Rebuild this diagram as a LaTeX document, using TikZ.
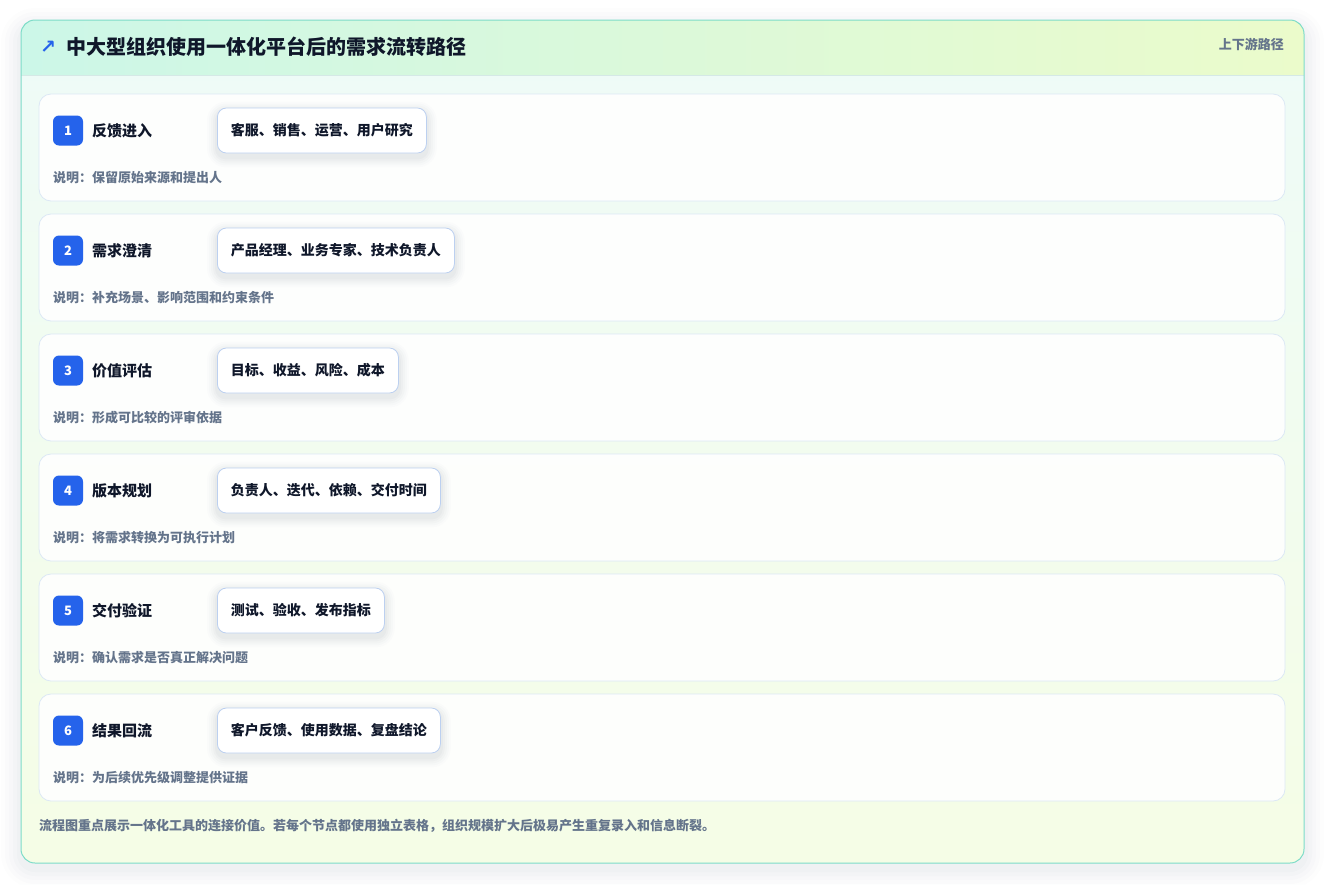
\documentclass[tikz,border=0pt]{standalone}
\usepackage{fontspec}
\setmainfont{Noto Sans CJK SC}
\newfontfamily\symfont{DejaVu Sans}
\usetikzlibrary{positioning}
\definecolor{cardborder}{HTML}{7DDCC8}
\definecolor{headL}{HTML}{CCF7E8}
\definecolor{headR}{HTML}{EBFBCB}
\definecolor{bodyT}{HTML}{EEFBF8}
\definecolor{bodyB}{HTML}{F5FDE6}
\definecolor{rowborder}{HTML}{DCE8F5}
\definecolor{chipborder}{HTML}{BCD0F0}
\definecolor{badgeblue}{HTML}{2563EB}
\definecolor{titletext}{HTML}{0F172A}
\definecolor{muted}{HTML}{64748B}
\definecolor{headline}{HTML}{D5E9E6}
\definecolor{shadowcol}{HTML}{334155}
\pgfdeclarelayer{rowlayer}
\pgfdeclarelayer{shadowlayer}
\pgfsetlayers{rowlayer,shadowlayer,main}
\tikzset{
  rowbox/.style={draw=rowborder, line width=0.8pt, fill=white, fill opacity=0.88, rounded corners=12pt},
  badge/.style={fill=badgeblue, rounded corners=6pt, minimum width=30pt, minimum height=30pt, inner sep=0pt, text=white, font=\bfseries\fontsize{13}{13}\selectfont},
  steplabel/.style={anchor=west, inner sep=0pt, text=titletext, font=\bfseries\fontsize{15}{15}\selectfont},
  chip/.style={anchor=west, draw=chipborder, line width=0.8pt, fill=white, rounded corners=9pt, minimum height=45pt, inner xsep=13.5pt, inner ysep=0pt, text=titletext, font=\bfseries\fontsize{14}{14}\selectfont},
  desc/.style={anchor=west, inner sep=0pt, text=muted, font=\bfseries\fontsize{13}{13}\selectfont},
}
\begin{document}
\begin{tikzpicture}[x=1pt,y=-1pt]
\useasboundingbox (0,0) rectangle (1325,884);
\begin{pgfonlayer}{rowlayer}
\fill[white] (0,0) rectangle (1325,884);
% soft outer shadow
\foreach \i/\o in {20/0.008,16/0.010,12/0.012,8/0.014,4/0.016}{
  \fill[shadowcol, opacity=\o, rounded corners=14pt+\i pt] (21-\i,28-\i) rectangle (1304+\i,868+\i);
}
% card body
\begin{scope}
\clip[rounded corners=14pt] (21,20) rectangle (1304,863);
\shade[top color=bodyT, bottom color=bodyB] (21,20) rectangle (1304,863);
\shade[left color=headL, right color=headR] (21,20) rectangle (1304,75);
\draw[headline, line width=0.8pt] (21,75) -- (1304,75);
\end{scope}
\draw[cardborder, line width=1pt, rounded corners=14pt] (21,20) rectangle (1304,863);
\end{pgfonlayer}
% header
\node[anchor=west, inner sep=0pt, text=badgeblue, font=\symfont\bfseries\fontsize{19}{19}\selectfont] (arrow) at (40,47) {↗};
\node[anchor=west, inner sep=0pt, text=titletext, font=\bfseries\fontsize{20}{20}\selectfont] (title) at (66,47) {中大型组织使用一体化平台后的需求流转路径};
\node[anchor=east, inner sep=0pt, text=muted, font=\bfseries\fontsize{13}{13}\selectfont] (tag) at (1284,44) {上下游路径};
% rows
\foreach \k/\lab/\chiptext/\desctext in {
 1/反馈进入/客服、销售、运营、用户研究/说明：保留原始来源和提出人,
 2/需求澄清/产品经理、业务专家、技术负责人/说明：补充场景、影响范围和约束条件,
 3/价值评估/目标、收益、风险、成本/说明：形成可比较的评审依据,
 4/版本规划/负责人、迭代、依赖、交付时间/说明：将需求转换为可执行计划,
 5/交付验证/测试、验收、发布指标/说明：确认需求是否真正解决问题,
 6/结果回流/客户反馈、使用数据、复盘结论/说明：为后续优先级调整提供证据}{
  \pgfmathsetmacro{\yy}{94+(\k-1)*120}
  \begin{pgfonlayer}{rowlayer}
  \draw[rowbox] (39,\yy) rectangle (1285,\yy+107);
  \end{pgfonlayer}
  \node[badge] (b\k) at (68,\yy+36.5) {\k};
  \node[steplabel] (l\k) at (92,\yy+36.5) {\lab};
  \node[chip] (c\k) at (217,\yy+36.5) {\chiptext};
  \node[desc] (d\k) at (53,\yy+83.5) {\desctext};
  \begin{pgfonlayer}{shadowlayer}
  \foreach \s/\o in {10/0.012,8/0.015,6/0.018,4/0.022,2/0.026}{
    \fill[shadowcol, opacity=\o, rounded corners=9pt+\s pt]
      ([xshift=-\s pt, yshift=-\s pt-4pt]c\k.south west) rectangle ([xshift=\s pt, yshift=\s pt-4pt]c\k.north east);
  }
  \end{pgfonlayer}
}
% footer
\node[anchor=west, inner sep=0pt, text=muted, font=\bfseries\fontsize{13}{13}\selectfont] (foot) at (39,826) {流程图重点展示一体化工具的连接价值。若每个节点都使用独立表格，组织规模扩大后极易产生重复录入和信息断裂。};
\end{tikzpicture}
\end{document}
